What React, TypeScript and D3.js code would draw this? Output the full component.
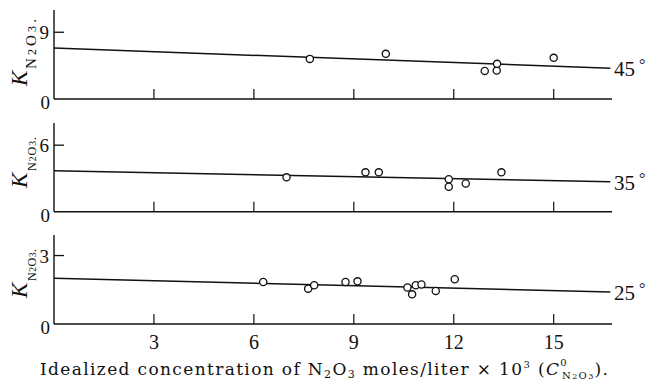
import * as d3 from "d3";

// x positions (concentration x 10^3) and K values
const x45 = [7.68, 9.96, 12.93, 13.29, 13.3, 15.0];
const k45 = [5.41, 6.09, 3.79, 3.83, 4.74, 5.55];
const x35 = [6.98, 9.35, 9.75, 11.85, 11.85, 12.36, 13.43];
const k35 = [3.1, 3.55, 3.55, 2.92, 2.25, 2.55, 3.55];
const x25 = [6.28, 7.63, 7.81, 8.75, 9.11, 10.61, 10.75, 10.86, 11.03, 11.46, 12.03];
const k25 = [1.84, 1.55, 1.7, 1.84, 1.87, 1.6, 1.3, 1.7, 1.73, 1.45, 1.96];

// fitted lines: value at x = 0 and at the right end
const fitEnds = [0, 16.7];
const fit45 = [6.86, 4.15];
const fit35 = [3.69, 2.7];
const fit25 = [2.01, 1.4];

const tempLabels = ["45", "35", "25"];
const yTickVals = [9, 6, 3];
const yTops = [12, 8, 3.9];
const xTicks = [3, 6, 9, 12, 15];

const W = 648;
const H = 382;
const font = "'Liberation Serif', 'DejaVu Serif', serif";

// panel placement in pixels: [baseline, top]
const frames = [
  [99, 10],
  [211.7, 123],
  [324, 235],
];
// y label: bottom start and length of the subscript
const labelStart = [86, 188, 298];
const subLen = [50, 34, 32];
const subSizes = [15, 12, 12];

const xs = d3.scaleLinear().domain([0, 16.75]).range([54, 612]);

const panels = [
  { xv: x45, kv: k45, fit: fit45 },
  { xv: x35, kv: k35, fit: fit35 },
  { xv: x25, kv: k25, fit: fit25 },
];

export default function App() {
  const ink = "#111";
  return (
    <svg
      width={W}
      height={H}
      style={{ position: "absolute", left: 0, top: 0, background: "#fff" }}
      fontFamily={font}
    >
      {panels.map((p, i) => {
        const [base, top] = frames[i];
        const ys = d3.scaleLinear().domain([0, yTops[i]]).range([base, top]);
        const line = d3
          .line<number>()
          .x((d) => xs(d))
          .y((d, j) => ys(p.fit[j]));
        const sub = subSizes[i];
        return (
          <g key={i}>
            {/* y axis */}
            <line x1={xs(0)} x2={xs(0)} y1={ys(yTops[i])} y2={ys(0)} stroke={ink} strokeWidth={1.4} />
            <line x1={xs(0)} x2={xs(0) + 10} y1={ys(yTickVals[i])} y2={ys(yTickVals[i])} stroke={ink} strokeWidth={1.3} />
            <text x={49} y={ys(yTickVals[i]) + 7} fontSize={19} textAnchor="end" fill={ink}>
              {yTickVals[i]}
            </text>
            <text x={50} y={ys(0) + 10} fontSize={19} textAnchor="end" fill={ink}>
              0
            </text>
            {/* x axis */}
            <line x1={xs(0)} x2={xs(16.75)} y1={ys(0)} y2={ys(0)} stroke={ink} strokeWidth={1.4} />
            {xTicks.map((t) => (
              <line key={t} x1={xs(t)} x2={xs(t)} y1={ys(0)} y2={ys(0) - 10} stroke={ink} strokeWidth={1.2} />
            ))}
            {/* fitted line */}
            <path d={line(fitEnds) || ""} fill="none" stroke={ink} strokeWidth={1.5} />
            {/* points */}
            {p.xv.map((xv, j) => (
              <circle key={j} cx={xs(xv)} cy={ys(p.kv[j])} r={3.6} fill="#fff" stroke={ink} strokeWidth={1.3} />
            ))}
            {/* temperature label */}
            <text x={614} y={ys(p.fit[1]) + 8} fontSize={21} fill={ink}>
              {tempLabels[i]}
              <tspan dx={4} dy={-6} fontSize={16}>°</tspan>
            </text>
            {/* y label */}
            <g transform={`translate(27,${labelStart[i]}) rotate(-90)`} fill={ink}>
              <text x={0} y={0} fontSize={23} fontStyle="italic">K</text>
              <text x={17} y={9} fontSize={sub} textLength={subLen[i]} lengthAdjust="spacing">
                N<tspan fontSize={sub * 0.8}>2</tspan>O<tspan fontSize={sub * 0.8}>3</tspan>.
              </text>
            </g>
          </g>
        );
      })}
      {/* x tick labels */}
      {xTicks.map((t) => (
        <text key={t} x={xs(t)} y={349} fontSize={20} textAnchor="middle" fill={ink}>
          {t}
        </text>
      ))}
      {/* x title */}
      <text
        x={40}
        y={375}
        fontSize={17}
        fontFamily="'DejaVu Serif', serif"
        fill={ink}
        textLength={568}
        lengthAdjust="spacing"
      >
        Idealized concentration of N
        <tspan fontSize={11} dy={3}>2</tspan>
        <tspan dy={-3}>O</tspan>
        <tspan fontSize={11} dy={3}>3</tspan>
        <tspan dy={-3}> moles/liter × 10</tspan>
        <tspan fontSize={10} dy={-7}>3</tspan>
        <tspan dy={7}> (</tspan>
        <tspan fontStyle="italic">C</tspan>
        <tspan fontSize={10} dy={-9}>0</tspan>
        <tspan fontSize={10} dx={-6} dy={13}>N</tspan>
        <tspan fontSize={8}>2</tspan>
        <tspan fontSize={10}>O</tspan>
        <tspan fontSize={8}>3</tspan>
        <tspan dy={-4}>).</tspan>
      </text>
    </svg>
  );
}
